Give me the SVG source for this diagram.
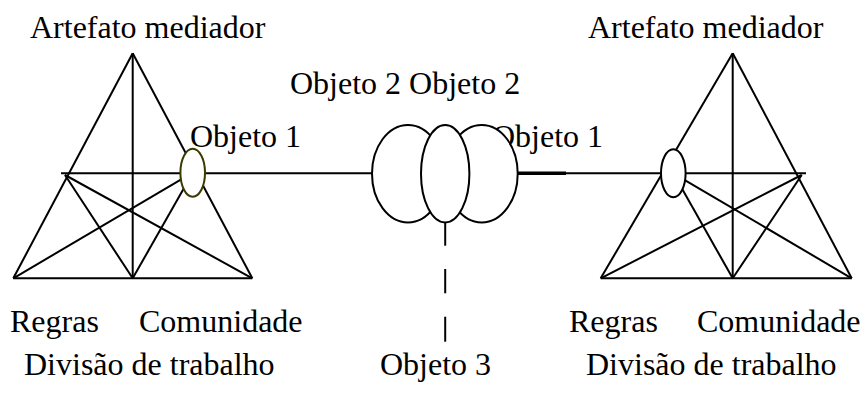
<svg xmlns="http://www.w3.org/2000/svg" width="860" height="394" viewBox="0 0 860 394">
  <style>
    .ln { stroke: #000; stroke-width: 2; fill: none; stroke-linecap: butt; }
    .thick { stroke: #000; stroke-width: 3.5; fill: none; }
    .ell { fill: #fff; stroke: #000; stroke-width: 2; }
    .olive { fill: #fff; stroke: #3b3b00; stroke-width: 2; }
    .lbl { font-family: "Liberation Serif", "Times New Roman", serif; font-size: 32px; fill: #000; }
  </style>

  <!-- connectors between the two activity systems and the shared objects -->
  <g id="connectors">
    <line class="ln" x1="61" y1="173.3" x2="408" y2="173.3"/>
    <line class="thick" x1="481" y1="173.3" x2="566" y2="173.3"/>
    <line class="ln" x1="566" y1="173.3" x2="806" y2="173.3"/>
    <line class="ln" x1="445.2" y1="222" x2="445.2" y2="245.7"/>
    <line class="ln" x1="445.2" y1="269" x2="445.2" y2="293.3"/>
    <line class="ln" x1="445.2" y1="316.7" x2="445.2" y2="341.7"/>
  </g>

  <!-- left activity system -->
  <g id="system-left">
    <line class="ln" x1="132.7" y1="53.3" x2="13.3" y2="278.3"/>
    <line class="ln" x1="132.7" y1="53.3" x2="252.3" y2="278.3"/>
    <line class="ln" x1="13.3" y1="278.3" x2="252.3" y2="278.3"/>
    <line class="ln" x1="132.7" y1="53.3" x2="132.7" y2="278.3"/>
    <line class="ln" x1="65" y1="175" x2="132.7" y2="278.3"/>
    <line class="ln" x1="65" y1="175" x2="252.3" y2="278.3"/>
    <line class="ln" x1="192.7" y1="172.7" x2="132.7" y2="278.3"/>
    <line class="ln" x1="192.7" y1="172.7" x2="13.3" y2="278.3"/>
    <ellipse class="olive" cx="192.7" cy="172.7" rx="12.3" ry="24"/>
    <text class="lbl" x="30" y="38">Artefato mediador</text>
    <text class="lbl" x="190" y="147">Objeto 1</text>
    <text class="lbl" x="10" y="331.7">Regras</text>
    <text class="lbl" x="139" y="331.7">Comunidade</text>
    <text class="lbl" x="24" y="375">Divisão de trabalho</text>
  </g>

  <!-- right activity system -->
  <g id="system-right">
    <line class="ln" x1="732.7" y1="53.3" x2="600.7" y2="278.3"/>
    <line class="ln" x1="732.7" y1="53.3" x2="851.7" y2="278.3"/>
    <line class="ln" x1="600.7" y1="278.3" x2="851.7" y2="278.3"/>
    <line class="ln" x1="732.7" y1="53.3" x2="732.7" y2="278.3"/>
    <line class="ln" x1="801.7" y1="175" x2="732.7" y2="278.3"/>
    <line class="ln" x1="801.7" y1="175" x2="600.7" y2="278.3"/>
    <line class="ln" x1="673.3" y1="173.3" x2="732.7" y2="278.3"/>
    <line class="ln" x1="673.3" y1="173.3" x2="851.7" y2="278.3"/>
    <ellipse class="ell" cx="673.3" cy="173.3" rx="12.3" ry="24"/>
    <text class="lbl" x="588" y="38">Artefato mediador</text>
    <text class="lbl" x="569" y="331.7">Regras</text>
    <text class="lbl" x="697" y="331.7">Comunidade</text>
    <text class="lbl" x="586" y="375">Divisão de trabalho</text>
  </g>

  <!-- label of the right object, partly hidden by the shared objects -->
  <g id="object-1-right">
    <text class="lbl" x="492" y="147">Objeto 1</text>
  </g>

  <!-- shared objects -->
  <g id="shared-objects">
    <ellipse class="ell" cx="408" cy="173.7" rx="36" ry="48.7"/>
    <ellipse class="ell" cx="481.7" cy="173.7" rx="36" ry="48.7"/>
    <ellipse class="ell" cx="445.2" cy="173.7" rx="24.2" ry="48.7"/>
    <text class="lbl" x="290" y="94">Objeto 2 Objeto 2</text>
  </g>

  <g id="object-3">
    <text class="lbl" x="380" y="375">Objeto 3</text>
  </g>
</svg>
